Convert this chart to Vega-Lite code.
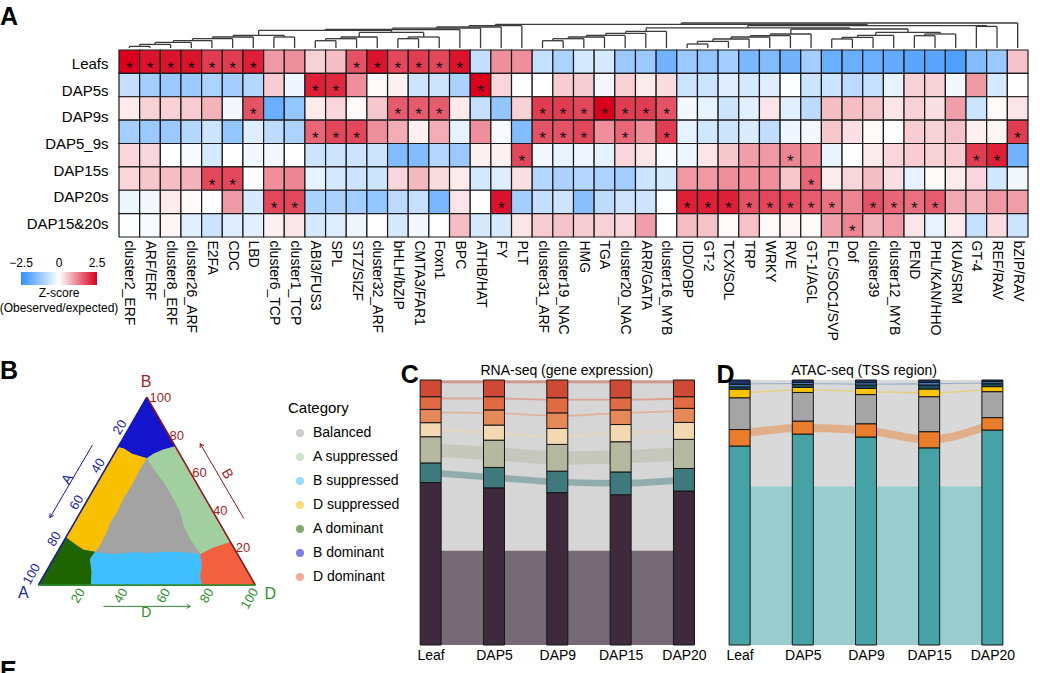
{
"$schema": "https://vega.github.io/schema/vega-lite/v6.json",
"padding": 0,
"background": "white",
"config": {
  "view": {"stroke": null},
  "font": "Liberation Sans",
  "axis": {"labelFont": "Liberation Sans", "titleFont": "Liberation Sans", "labelColor": "#000"},
  "legend": {"labelFont": "Liberation Sans", "titleFont": "Liberation Sans", "labelColor": "#000", "titleColor": "#000"}
},
"datasets": {
  "heat": [
{"r":1,"c":"cluster2_ERF","z":2.5,"s":1},{"r":1,"c":"ARF/ERF","z":2.3,"s":1},{"r":1,"c":"cluster8_ERF","z":2.3,"s":1},{"r":1,"c":"cluster26_ARF","z":2.3,"s":1},{"r":1,"c":"E2FA","z":1.9,"s":1},{"r":1,"c":"CDC","z":1.9,"s":1},{"r":1,"c":"LBD","z":2.2,"s":1},{"r":1,"c":"cluster6_TCP","z":1.0},{"r":1,"c":"cluster1_TCP","z":1.1},{"r":1,"c":"ABI3/FUS3","z":0.45},{"r":1,"c":"SPL","z":0.65},{"r":1,"c":"STZ/SIZF","z":1.7,"s":1},{"r":1,"c":"cluster32_ARF","z":2.3,"s":1},{"r":1,"c":"bHLH/bZIP","z":1.8,"s":1},{"r":1,"c":"CMTA3/FAR1","z":1.9,"s":1},{"r":1,"c":"Foxn1","z":1.8,"s":1},{"r":1,"c":"BPC","z":2.3,"s":1},{"r":1,"c":"ATHB/HAT","z":-0.7},{"r":1,"c":"FY","z":1.1},{"r":1,"c":"PLT","z":1.1},{"r":1,"c":"cluster31_ARF","z":-0.7},{"r":1,"c":"cluster19_NAC","z":-1.0},{"r":1,"c":"HMG","z":-0.5},{"r":1,"c":"TGA","z":-0.5},{"r":1,"c":"cluster20_NAC","z":-1.2},{"r":1,"c":"ARR/GATA","z":-1.2},{"r":1,"c":"cluster16_MYB","z":-1.7},{"r":1,"c":"IDD/OBP","z":-1.2},{"r":1,"c":"GT-2","z":-1.3},{"r":1,"c":"TCX/SOL","z":-1.1},{"r":1,"c":"TRP","z":-1.6},{"r":1,"c":"WRKY","z":-1.5},{"r":1,"c":"RVE","z":-1.7},{"r":1,"c":"GT-1/AGL","z":-1.1},{"r":1,"c":"FLC/SOC1/SVP","z":-1.8},{"r":1,"c":"Dof","z":-1.8},{"r":1,"c":"cluster39","z":-1.8},{"r":1,"c":"cluster12_MYB","z":-1.9},{"r":1,"c":"PEND","z":-2.0},{"r":1,"c":"PHL/KAN/HHO","z":-2.0},{"r":1,"c":"KUA/SRM","z":-2.1},{"r":1,"c":"GT-4","z":-1.5},{"r":1,"c":"REF/RAV","z":-1.2},{"r":1,"c":"bZIP/RAV","z":0.6},
{"r":2,"c":"cluster2_ERF","z":-0.7},{"r":2,"c":"ARF/ERF","z":-1.1},{"r":2,"c":"cluster8_ERF","z":-1.2},{"r":2,"c":"cluster26_ARF","z":-1.2},{"r":2,"c":"E2FA","z":-1.0},{"r":2,"c":"CDC","z":-1.1},{"r":2,"c":"LBD","z":-0.9},{"r":2,"c":"cluster6_TCP","z":0.5},{"r":2,"c":"cluster1_TCP","z":-0.2},{"r":2,"c":"ABI3/FUS3","z":2.2,"s":1},{"r":2,"c":"SPL","z":2.1,"s":1},{"r":2,"c":"STZ/SIZF","z":1.1},{"r":2,"c":"cluster32_ARF","z":0.05},{"r":2,"c":"bHLH/bZIP","z":0.15},{"r":2,"c":"CMTA3/FAR1","z":-0.6},{"r":2,"c":"Foxn1","z":-0.6},{"r":2,"c":"BPC","z":-1.0},{"r":2,"c":"ATHB/HAT","z":2.5,"s":1},{"r":2,"c":"FY","z":0.4},{"r":2,"c":"PLT","z":-0.05},{"r":2,"c":"cluster31_ARF","z":0},{"r":2,"c":"cluster19_NAC","z":0.5},{"r":2,"c":"HMG","z":0.5},{"r":2,"c":"TGA","z":-0.15},{"r":2,"c":"cluster20_NAC","z":0.45},{"r":2,"c":"ARR/GATA","z":0.2},{"r":2,"c":"cluster16_MYB","z":0.35},{"r":2,"c":"IDD/OBP","z":-0.6},{"r":2,"c":"GT-2","z":-0.6},{"r":2,"c":"TCX/SOL","z":-0.4},{"r":2,"c":"TRP","z":-0.5},{"r":2,"c":"WRKY","z":-0.4},{"r":2,"c":"RVE","z":-0.05},{"r":2,"c":"GT-1/AGL","z":-0.6},{"r":2,"c":"FLC/SOC1/SVP","z":-0.6},{"r":2,"c":"Dof","z":-0.8},{"r":2,"c":"cluster39","z":-0.7},{"r":2,"c":"cluster12_MYB","z":-0.3},{"r":2,"c":"PEND","z":0.45},{"r":2,"c":"PHL/KAN/HHO","z":0.45},{"r":2,"c":"KUA/SRM","z":-0.15},{"r":2,"c":"GT-4","z":1.0},{"r":2,"c":"REF/RAV","z":-0.5},{"r":2,"c":"bZIP/RAV","z":0},
{"r":3,"c":"cluster2_ERF","z":0.2},{"r":3,"c":"ARF/ERF","z":0.45},{"r":3,"c":"cluster8_ERF","z":0.45},{"r":3,"c":"cluster26_ARF","z":0.5},{"r":3,"c":"E2FA","z":0.75},{"r":3,"c":"CDC","z":-0.15},{"r":3,"c":"LBD","z":1.7,"s":1},{"r":3,"c":"cluster6_TCP","z":-1.8},{"r":3,"c":"cluster1_TCP","z":-1.3},{"r":3,"c":"ABI3/FUS3","z":0.2},{"r":3,"c":"SPL","z":0.4},{"r":3,"c":"STZ/SIZF","z":0.05},{"r":3,"c":"cluster32_ARF","z":0.55},{"r":3,"c":"bHLH/bZIP","z":1.6,"s":1},{"r":3,"c":"CMTA3/FAR1","z":1.6,"s":1},{"r":3,"c":"Foxn1","z":1.6,"s":1},{"r":3,"c":"BPC","z":0.2},{"r":3,"c":"ATHB/HAT","z":-0.7},{"r":3,"c":"FY","z":-1.3},{"r":3,"c":"PLT","z":0.45},{"r":3,"c":"cluster31_ARF","z":1.9,"s":1},{"r":3,"c":"cluster19_NAC","z":1.9,"s":1},{"r":3,"c":"HMG","z":1.8,"s":1},{"r":3,"c":"TGA","z":2.5,"s":1},{"r":3,"c":"cluster20_NAC","z":1.9,"s":1},{"r":3,"c":"ARR/GATA","z":1.9,"s":1},{"r":3,"c":"cluster16_MYB","z":1.7,"s":1},{"r":3,"c":"IDD/OBP","z":-0.15},{"r":3,"c":"GT-2","z":-0.3},{"r":3,"c":"TCX/SOL","z":-0.6},{"r":3,"c":"TRP","z":-0.35},{"r":3,"c":"WRKY","z":0.25},{"r":3,"c":"RVE","z":-0.35},{"r":3,"c":"GT-1/AGL","z":-0.8},{"r":3,"c":"FLC/SOC1/SVP","z":0.65},{"r":3,"c":"Dof","z":0.65},{"r":3,"c":"cluster39","z":0.55},{"r":3,"c":"cluster12_MYB","z":0.25},{"r":3,"c":"PEND","z":0.45},{"r":3,"c":"PHL/KAN/HHO","z":0.3},{"r":3,"c":"KUA/SRM","z":0.95},{"r":3,"c":"GT-4","z":-0.6},{"r":3,"c":"REF/RAV","z":0.05},{"r":3,"c":"bZIP/RAV","z":0.25},
{"r":4,"c":"cluster2_ERF","z":-1.1},{"r":4,"c":"ARF/ERF","z":-1.2},{"r":4,"c":"cluster8_ERF","z":-1.2},{"r":4,"c":"cluster26_ARF","z":-0.9},{"r":4,"c":"E2FA","z":-0.6},{"r":4,"c":"CDC","z":-1.3},{"r":4,"c":"LBD","z":-0.4},{"r":4,"c":"cluster6_TCP","z":-0.8},{"r":4,"c":"cluster1_TCP","z":-1.0},{"r":4,"c":"ABI3/FUS3","z":1.5,"s":1},{"r":4,"c":"SPL","z":1.8,"s":1},{"r":4,"c":"STZ/SIZF","z":1.8,"s":1},{"r":4,"c":"cluster32_ARF","z":1.1},{"r":4,"c":"bHLH/bZIP","z":0.8},{"r":4,"c":"CMTA3/FAR1","z":0.15},{"r":4,"c":"Foxn1","z":0.8},{"r":4,"c":"BPC","z":-0.3},{"r":4,"c":"ATHB/HAT","z":1.1},{"r":4,"c":"FY","z":-0.1},{"r":4,"c":"PLT","z":-1.5},{"r":4,"c":"cluster31_ARF","z":1.7,"s":1},{"r":4,"c":"cluster19_NAC","z":1.7,"s":1},{"r":4,"c":"HMG","z":1.8,"s":1},{"r":4,"c":"TGA","z":1.1},{"r":4,"c":"cluster20_NAC","z":1.5,"s":1},{"r":4,"c":"ARR/GATA","z":1.1},{"r":4,"c":"cluster16_MYB","z":1.9,"s":1},{"r":4,"c":"IDD/OBP","z":-0.3},{"r":4,"c":"GT-2","z":-0.55},{"r":4,"c":"TCX/SOL","z":-0.6},{"r":4,"c":"TRP","z":-0.45},{"r":4,"c":"WRKY","z":-0.75},{"r":4,"c":"RVE","z":-0.2},{"r":4,"c":"GT-1/AGL","z":-0.15},{"r":4,"c":"FLC/SOC1/SVP","z":0.55},{"r":4,"c":"Dof","z":0.3},{"r":4,"c":"cluster39","z":0.05},{"r":4,"c":"cluster12_MYB","z":-0.05},{"r":4,"c":"PEND","z":0.5},{"r":4,"c":"PHL/KAN/HHO","z":0.45},{"r":4,"c":"KUA/SRM","z":0.6},{"r":4,"c":"GT-4","z":0.15},{"r":4,"c":"REF/RAV","z":0.1},{"r":4,"c":"bZIP/RAV","z":1.9,"s":1},
{"r":5,"c":"cluster2_ERF","z":0.4},{"r":5,"c":"ARF/ERF","z":0.4},{"r":5,"c":"cluster8_ERF","z":0},{"r":5,"c":"cluster26_ARF","z":-0.1},{"r":5,"c":"E2FA","z":-0.5},{"r":5,"c":"CDC","z":0},{"r":5,"c":"LBD","z":-0.15},{"r":5,"c":"cluster6_TCP","z":-0.15},{"r":5,"c":"cluster1_TCP","z":0},{"r":5,"c":"ABI3/FUS3","z":-0.6},{"r":5,"c":"SPL","z":-0.6},{"r":5,"c":"STZ/SIZF","z":-0.6},{"r":5,"c":"cluster32_ARF","z":-0.6},{"r":5,"c":"bHLH/bZIP","z":-1.5},{"r":5,"c":"CMTA3/FAR1","z":-1.5},{"r":5,"c":"Foxn1","z":-0.9},{"r":5,"c":"BPC","z":-1.2},{"r":5,"c":"ATHB/HAT","z":0.15},{"r":5,"c":"FY","z":0.15},{"r":5,"c":"PLT","z":1.8,"s":1},{"r":5,"c":"cluster31_ARF","z":-0.15},{"r":5,"c":"cluster19_NAC","z":-0.25},{"r":5,"c":"HMG","z":-0.2},{"r":5,"c":"TGA","z":-0.3},{"r":5,"c":"cluster20_NAC","z":0.4},{"r":5,"c":"ARR/GATA","z":0.25},{"r":5,"c":"cluster16_MYB","z":-0.1},{"r":5,"c":"IDD/OBP","z":-0.2},{"r":5,"c":"GT-2","z":0.25},{"r":5,"c":"TCX/SOL","z":0.55},{"r":5,"c":"TRP","z":0.95},{"r":5,"c":"WRKY","z":1.0},{"r":5,"c":"RVE","z":1.2,"s":1},{"r":5,"c":"GT-1/AGL","z":1.1},{"r":5,"c":"FLC/SOC1/SVP","z":-0.25},{"r":5,"c":"Dof","z":-0.02},{"r":5,"c":"cluster39","z":0.2},{"r":5,"c":"cluster12_MYB","z":0.4},{"r":5,"c":"PEND","z":0.5},{"r":5,"c":"PHL/KAN/HHO","z":0.45},{"r":5,"c":"KUA/SRM","z":0.5},{"r":5,"c":"GT-4","z":1.9,"s":1},{"r":5,"c":"REF/RAV","z":2.2,"s":1},{"r":5,"c":"bZIP/RAV","z":-1.7},
{"r":6,"c":"cluster2_ERF","z":0.4},{"r":6,"c":"ARF/ERF","z":0.55},{"r":6,"c":"cluster8_ERF","z":0.65},{"r":6,"c":"cluster26_ARF","z":0.75},{"r":6,"c":"E2FA","z":1.8,"s":1},{"r":6,"c":"CDC","z":1.8,"s":1},{"r":6,"c":"LBD","z":0},{"r":6,"c":"cluster6_TCP","z":1.1},{"r":6,"c":"cluster1_TCP","z":1.2},{"r":6,"c":"ABI3/FUS3","z":-0.3},{"r":6,"c":"SPL","z":-0.5},{"r":6,"c":"STZ/SIZF","z":-0.6},{"r":6,"c":"cluster32_ARF","z":-0.6},{"r":6,"c":"bHLH/bZIP","z":0.4},{"r":6,"c":"CMTA3/FAR1","z":0.7},{"r":6,"c":"Foxn1","z":0.35},{"r":6,"c":"BPC","z":0.2},{"r":6,"c":"ATHB/HAT","z":-0.5},{"r":6,"c":"FY","z":-0.4},{"r":6,"c":"PLT","z":0.3},{"r":6,"c":"cluster31_ARF","z":-0.9},{"r":6,"c":"cluster19_NAC","z":-1.0},{"r":6,"c":"HMG","z":-0.9},{"r":6,"c":"TGA","z":-1.0},{"r":6,"c":"cluster20_NAC","z":-1.1},{"r":6,"c":"ARR/GATA","z":-0.6},{"r":6,"c":"cluster16_MYB","z":-0.5},{"r":6,"c":"IDD/OBP","z":1.0},{"r":6,"c":"GT-2","z":1.0},{"r":6,"c":"TCX/SOL","z":1.1},{"r":6,"c":"TRP","z":1.1},{"r":6,"c":"WRKY","z":1.1},{"r":6,"c":"RVE","z":0.55},{"r":6,"c":"GT-1/AGL","z":1.5,"s":1},{"r":6,"c":"FLC/SOC1/SVP","z":0.2},{"r":6,"c":"Dof","z":0.4},{"r":6,"c":"cluster39","z":0.65},{"r":6,"c":"cluster12_MYB","z":0.3},{"r":6,"c":"PEND","z":-0.3},{"r":6,"c":"PHL/KAN/HHO","z":0.05},{"r":6,"c":"KUA/SRM","z":0.2},{"r":6,"c":"GT-4","z":0.4},{"r":6,"c":"REF/RAV","z":-0.55},{"r":6,"c":"bZIP/RAV","z":-0.15},
{"r":7,"c":"cluster2_ERF","z":-0.2},{"r":7,"c":"ARF/ERF","z":-0.15},{"r":7,"c":"cluster8_ERF","z":0.2},{"r":7,"c":"cluster26_ARF","z":0.05},{"r":7,"c":"E2FA","z":0},{"r":7,"c":"CDC","z":1.0},{"r":7,"c":"LBD","z":-0.5},{"r":7,"c":"cluster6_TCP","z":1.8,"s":1},{"r":7,"c":"cluster1_TCP","z":1.8,"s":1},{"r":7,"c":"ABI3/FUS3","z":-1.0},{"r":7,"c":"SPL","z":-1.0},{"r":7,"c":"STZ/SIZF","z":-1.1},{"r":7,"c":"cluster32_ARF","z":-1.3},{"r":7,"c":"bHLH/bZIP","z":-0.8},{"r":7,"c":"CMTA3/FAR1","z":-0.7},{"r":7,"c":"Foxn1","z":-1.6},{"r":7,"c":"BPC","z":0.25},{"r":7,"c":"ATHB/HAT","z":0},{"r":7,"c":"FY","z":2.3,"s":1},{"r":7,"c":"PLT","z":-1.1},{"r":7,"c":"cluster31_ARF","z":-0.7},{"r":7,"c":"cluster19_NAC","z":-0.6},{"r":7,"c":"HMG","z":-1.4},{"r":7,"c":"TGA","z":-0.8},{"r":7,"c":"cluster20_NAC","z":-0.6},{"r":7,"c":"ARR/GATA","z":-0.6},{"r":7,"c":"cluster16_MYB","z":-0.05},{"r":7,"c":"IDD/OBP","z":2.2,"s":1},{"r":7,"c":"GT-2","z":2.2,"s":1},{"r":7,"c":"TCX/SOL","z":2.2,"s":1},{"r":7,"c":"TRP","z":1.7,"s":1},{"r":7,"c":"WRKY","z":1.8,"s":1},{"r":7,"c":"RVE","z":1.8,"s":1},{"r":7,"c":"GT-1/AGL","z":1.6,"s":1},{"r":7,"c":"FLC/SOC1/SVP","z":1.4,"s":1},{"r":7,"c":"Dof","z":1.2},{"r":7,"c":"cluster39","z":1.7,"s":1},{"r":7,"c":"cluster12_MYB","z":1.5,"s":1},{"r":7,"c":"PEND","z":1.4,"s":1},{"r":7,"c":"PHL/KAN/HHO","z":1.6,"s":1},{"r":7,"c":"KUA/SRM","z":0.85},{"r":7,"c":"GT-4","z":0.75},{"r":7,"c":"REF/RAV","z":1.0},{"r":7,"c":"bZIP/RAV","z":0.95},
{"r":8,"c":"cluster2_ERF","z":-0.05},{"r":8,"c":"ARF/ERF","z":-0.1},{"r":8,"c":"cluster8_ERF","z":0.1},{"r":8,"c":"cluster26_ARF","z":-0.35},{"r":8,"c":"E2FA","z":-0.6},{"r":8,"c":"CDC","z":-0.4},{"r":8,"c":"LBD","z":-0.35},{"r":8,"c":"cluster6_TCP","z":0.15},{"r":8,"c":"cluster1_TCP","z":0.25},{"r":8,"c":"ABI3/FUS3","z":-0.5},{"r":8,"c":"SPL","z":-0.4},{"r":8,"c":"STZ/SIZF","z":-0.2},{"r":8,"c":"cluster32_ARF","z":0},{"r":8,"c":"bHLH/bZIP","z":-0.5},{"r":8,"c":"CMTA3/FAR1","z":-0.15},{"r":8,"c":"Foxn1","z":0},{"r":8,"c":"BPC","z":0.65},{"r":8,"c":"ATHB/HAT","z":-0.5},{"r":8,"c":"FY","z":-0.5},{"r":8,"c":"PLT","z":0.25},{"r":8,"c":"cluster31_ARF","z":0.5},{"r":8,"c":"cluster19_NAC","z":0.6},{"r":8,"c":"HMG","z":0.5},{"r":8,"c":"TGA","z":0.45},{"r":8,"c":"cluster20_NAC","z":0.4},{"r":8,"c":"ARR/GATA","z":0.95},{"r":8,"c":"cluster16_MYB","z":0},{"r":8,"c":"IDD/OBP","z":0.65},{"r":8,"c":"GT-2","z":0.6},{"r":8,"c":"TCX/SOL","z":0.05},{"r":8,"c":"TRP","z":0.6},{"r":8,"c":"WRKY","z":0.05},{"r":8,"c":"RVE","z":0.1},{"r":8,"c":"GT-1/AGL","z":0.05},{"r":8,"c":"FLC/SOC1/SVP","z":0.9},{"r":8,"c":"Dof","z":1.2,"s":1},{"r":8,"c":"cluster39","z":0.75},{"r":8,"c":"cluster12_MYB","z":1.0},{"r":8,"c":"PEND","z":0.25},{"r":8,"c":"PHL/KAN/HHO","z":-0.3},{"r":8,"c":"KUA/SRM","z":0.2},{"r":8,"c":"GT-4","z":-0.7},{"r":8,"c":"REF/RAV","z":0.35},{"r":8,"c":"bZIP/RAV","z":-0.6}
  ],
  "rowlabels": [{"label":"Leafs"},{"label":"DAP5s"},{"label":"DAP9s"},{"label":"DAP5_9s"},{"label":"DAP15s"},{"label":"DAP20s"},{"label":"DAP15&20s"}],
  "links": [
{"x1":0.5,"x2":1.5,"h":1.6,"h1":0,"h2":0},{"x1":1.0,"x2":2.5,"h":3.6,"h1":1.6,"h2":0},{"x1":1.75,"x2":3.5,"h":5.6,"h1":3.6,"h2":0},{"x1":2.63,"x2":4.5,"h":7.3,"h1":5.6,"h2":0},{"x1":3.56,"x2":5.5,"h":9.3,"h1":7.3,"h2":0},{"x1":4.53,"x2":6.5,"h":11,"h1":9.3,"h2":0},{"x1":7.5,"x2":8.5,"h":11,"h1":0,"h2":0},{"x1":5.52,"x2":8.0,"h":12.6,"h1":11,"h2":11},
{"x1":9.5,"x2":10.5,"h":7.3,"h1":0,"h2":0},{"x1":10,"x2":11.5,"h":9.3,"h1":7.3,"h2":0},{"x1":10.75,"x2":12.5,"h":11,"h1":9.3,"h2":0},{"x1":13.5,"x2":14.5,"h":9.3,"h1":0,"h2":0},{"x1":14,"x2":15.5,"h":11,"h1":9.3,"h2":0},{"x1":11.63,"x2":14.75,"h":15.6,"h1":11,"h2":11},{"x1":6.76,"x2":13.19,"h":17.6,"h1":12.6,"h2":15.6},{"x1":9.98,"x2":16.5,"h":18.5,"h1":17.6,"h2":0},{"x1":13.24,"x2":17.5,"h":19.8,"h1":18.5,"h2":0},{"x1":15.37,"x2":18.5,"h":21,"h1":19.8,"h2":0},{"x1":16.94,"x2":19.5,"h":22.3,"h1":21,"h2":0},
{"x1":20.5,"x2":21.5,"h":7.3,"h1":0,"h2":0},{"x1":21,"x2":22.5,"h":9.3,"h1":7.3,"h2":0},{"x1":21.75,"x2":23.5,"h":11,"h1":9.3,"h2":0},{"x1":22.63,"x2":24.5,"h":12.6,"h1":11,"h2":0},{"x1":23.56,"x2":25.5,"h":14.6,"h1":12.6,"h2":0},{"x1":24.53,"x2":26.5,"h":16.6,"h1":14.6,"h2":0},
{"x1":27.5,"x2":28.5,"h":4,"h1":0,"h2":0},{"x1":28,"x2":29.5,"h":6.6,"h1":4,"h2":0},{"x1":28.75,"x2":30.5,"h":9,"h1":6.6,"h2":0},{"x1":29.63,"x2":31.5,"h":11,"h1":9,"h2":0},{"x1":30.56,"x2":32.5,"h":12.3,"h1":11,"h2":0},{"x1":31.53,"x2":33.5,"h":14,"h1":12.3,"h2":0},
{"x1":34.5,"x2":35.5,"h":9,"h1":0,"h2":0},{"x1":35,"x2":36.5,"h":10.6,"h1":9,"h2":0},{"x1":35.75,"x2":37.5,"h":12.6,"h1":10.6,"h2":0},{"x1":38.5,"x2":39.5,"h":12.3,"h1":0,"h2":0},{"x1":39,"x2":40.5,"h":14,"h1":12.3,"h2":0},{"x1":36.63,"x2":39.75,"h":15.6,"h1":12.6,"h2":14},{"x1":32.52,"x2":38.19,"h":19,"h1":14,"h2":15.6},{"x1":25.52,"x2":35.36,"h":20.2,"h1":16.6,"h2":19},
{"x1":41.5,"x2":42.5,"h":21.6,"h1":0,"h2":0},{"x1":30.44,"x2":42,"h":22.4,"h1":20.2,"h2":21.6},{"x1":18.22,"x2":36.22,"h":23.6,"h1":22.3,"h2":22.4},{"x1":27.22,"x2":43.5,"h":25,"h1":23.6,"h2":0}
  ],
  "regions": [
{"cat":"Balanced","o":1,"x":0,"y":0},{"cat":"Balanced","o":2,"x":100,"y":0},{"cat":"Balanced","o":3,"x":50,"y":86.6},
{"cat":"B dominant","o":1,"x":50,"y":86.6},{"cat":"B dominant","o":2,"x":36.7,"y":63.5},{"cat":"B dominant","o":3,"x":39.2,"y":63.1},{"cat":"B dominant","o":4,"x":43.1,"y":60.5},{"cat":"B dominant","o":5,"x":46.9,"y":59.4},{"cat":"B dominant","o":6,"x":50,"y":58.5},{"cat":"B dominant","o":7,"x":53.1,"y":60.5},{"cat":"B dominant","o":8,"x":57.7,"y":62.5},{"cat":"B dominant","o":9,"x":63.1,"y":64},
{"cat":"D suppressed","o":1,"x":36.7,"y":63.5},{"cat":"D suppressed","o":2,"x":39.2,"y":63.1},{"cat":"D suppressed","o":3,"x":43.1,"y":60.5},{"cat":"D suppressed","o":4,"x":46.9,"y":59.4},{"cat":"D suppressed","o":5,"x":50,"y":58.5},{"cat":"D suppressed","o":6,"x":46.9,"y":53.5},{"cat":"D suppressed","o":7,"x":43.8,"y":47.4},{"cat":"D suppressed","o":8,"x":39.2,"y":39.7},{"cat":"D suppressed","o":9,"x":36.2,"y":33.5},{"cat":"D suppressed","o":10,"x":33.1,"y":28.9},{"cat":"D suppressed","o":11,"x":31.5,"y":24.3},{"cat":"D suppressed","o":12,"x":28.5,"y":18.2},{"cat":"D suppressed","o":13,"x":26.2,"y":15.4},{"cat":"D suppressed","o":14,"x":20.8,"y":16.3},{"cat":"D suppressed","o":15,"x":16.9,"y":18.9},{"cat":"D suppressed","o":16,"x":12.7,"y":22},
{"cat":"A dominant","o":1,"x":0,"y":0},{"cat":"A dominant","o":2,"x":12.7,"y":22},{"cat":"A dominant","o":3,"x":16.9,"y":18.9},{"cat":"A dominant","o":4,"x":20.8,"y":16.3},{"cat":"A dominant","o":5,"x":26.2,"y":15.4},{"cat":"A dominant","o":6,"x":23.8,"y":12},{"cat":"A dominant","o":7,"x":24.6,"y":5.8},{"cat":"A dominant","o":8,"x":24.2,"y":0},
{"cat":"B suppressed","o":1,"x":24.2,"y":0},{"cat":"B suppressed","o":2,"x":24.6,"y":5.8},{"cat":"B suppressed","o":3,"x":23.8,"y":12},{"cat":"B suppressed","o":4,"x":26.2,"y":15.4},{"cat":"B suppressed","o":5,"x":28.5,"y":14.8},{"cat":"B suppressed","o":6,"x":36.2,"y":14.3},{"cat":"B suppressed","o":7,"x":43.8,"y":15.1},{"cat":"B suppressed","o":8,"x":51.5,"y":14.8},{"cat":"B suppressed","o":9,"x":59.2,"y":15.4},{"cat":"B suppressed","o":10,"x":66.9,"y":15.1},{"cat":"B suppressed","o":11,"x":74.6,"y":14.3},{"cat":"B suppressed","o":12,"x":75.4,"y":8.9},{"cat":"B suppressed","o":13,"x":74.6,"y":4.3},{"cat":"B suppressed","o":14,"x":75.4,"y":0},
{"cat":"D dominant","o":1,"x":75.4,"y":0},{"cat":"D dominant","o":2,"x":74.6,"y":4.3},{"cat":"D dominant","o":3,"x":75.4,"y":8.9},{"cat":"D dominant","o":4,"x":74.6,"y":14.3},{"cat":"D dominant","o":5,"x":80.8,"y":17.4},{"cat":"D dominant","o":6,"x":88.5,"y":20},{"cat":"D dominant","o":7,"x":100,"y":0},
{"cat":"A suppressed","o":1,"x":50,"y":58.5},{"cat":"A suppressed","o":2,"x":53.1,"y":60.5},{"cat":"A suppressed","o":3,"x":57.7,"y":62.5},{"cat":"A suppressed","o":4,"x":63.1,"y":64},{"cat":"A suppressed","o":5,"x":88.5,"y":20},{"cat":"A suppressed","o":6,"x":80.8,"y":17.4},{"cat":"A suppressed","o":7,"x":74.6,"y":14.3},{"cat":"A suppressed","o":8,"x":73.1,"y":16.6},{"cat":"A suppressed","o":9,"x":70,"y":21.2},{"cat":"A suppressed","o":10,"x":66.9,"y":27.4},{"cat":"A suppressed","o":11,"x":65.4,"y":33.5},{"cat":"A suppressed","o":12,"x":62.3,"y":39.7},{"cat":"A suppressed","o":13,"x":57.7,"y":47.4},{"cat":"A suppressed","o":14,"x":53.1,"y":53.5}
  ],
  "edges": [{"ax":"A","x":0,"y":0,"x2":50,"y2":86.6},{"ax":"B","x":50,"y":86.6,"x2":100,"y2":0},{"ax":"D","x":0,"y":0,"x2":100,"y2":0}],
  "ticks": [
{"ax":"A","t":"20","x":37.6,"y":72.7},{"ax":"A","t":"40","x":27.6,"y":55.0},{"ax":"A","t":"60","x":17.7,"y":38.1},{"ax":"A","t":"80","x":7.4,"y":21.2},{"ax":"A","t":"100","x":-3.0,"y":5.1},
{"ax":"B","t":"100","x":56.2,"y":86.2},{"ax":"B","t":"80","x":63.8,"y":68.6},{"ax":"B","t":"60","x":74.3,"y":51.7},{"ax":"B","t":"40","x":83.8,"y":34.3},{"ax":"B","t":"20","x":94.3,"y":17.1},
{"ax":"D","t":"20","x":18.4,"y":-4.9},{"ax":"D","t":"40","x":38.1,"y":-4.9},{"ax":"D","t":"60","x":57.7,"y":-4.9},{"ax":"D","t":"80","x":77.7,"y":-4.9},{"ax":"D","t":"100","x":97.4,"y":-6.2}
  ],
  "vertices": [{"ax":"A","t":"A","x":-6.9,"y":-3.7},{"ax":"B","t":"B","x":49.7,"y":93.5},{"ax":"D","t":"D","x":106.9,"y":-4.2}],
  "axisnames": [{"ax":"A","t":"A","x":13.5,"y":48.8},{"ax":"B","t":"B","x":86.9,"y":51.2},{"ax":"D","t":"D","x":49.7,"y":-12.9}],
  "arrows": [{"ax":"A","x":24.9,"y":64.5,"x2":5.4,"y2":31.2,"dir":120},{"ax":"B","x":94.6,"y":30.8,"x2":74.6,"y2":65.1,"dir":240},{"ax":"D","x":30,"y":-9.8,"x2":70,"y2":-9.8,"dir":0}],
  "barsC": [
{"s":0,"k":"C1","o":1,"pct":61.3},{"s":0,"k":"C2","o":2,"pct":7.4},{"s":0,"k":"C3","o":3,"pct":9.9},{"s":0,"k":"C4","o":4,"pct":5.3},{"s":0,"k":"C5","o":5,"pct":5.0},{"s":0,"k":"C6","o":6,"pct":4.8},{"s":0,"k":"C7","o":7,"pct":6.3},
{"s":1,"k":"C1","o":1,"pct":59.3},{"s":1,"k":"C2","o":2,"pct":7.7},{"s":1,"k":"C3","o":3,"pct":10.3},{"s":1,"k":"C4","o":4,"pct":5.7},{"s":1,"k":"C5","o":5,"pct":5.7},{"s":1,"k":"C6","o":6,"pct":5.0},{"s":1,"k":"C7","o":7,"pct":6.3},
{"s":2,"k":"C1","o":1,"pct":57.5},{"s":2,"k":"C2","o":2,"pct":8.1},{"s":2,"k":"C3","o":3,"pct":10.1},{"s":2,"k":"C4","o":4,"pct":6.0},{"s":2,"k":"C5","o":5,"pct":5.9},{"s":2,"k":"C6","o":6,"pct":5.7},{"s":2,"k":"C7","o":7,"pct":6.7},
{"s":3,"k":"C1","o":1,"pct":56.7},{"s":3,"k":"C2","o":2,"pct":8.6},{"s":3,"k":"C3","o":3,"pct":11.4},{"s":3,"k":"C4","o":4,"pct":6.5},{"s":3,"k":"C5","o":5,"pct":5.5},{"s":3,"k":"C6","o":6,"pct":4.6},{"s":3,"k":"C7","o":7,"pct":6.7},
{"s":4,"k":"C1","o":1,"pct":58.1},{"s":4,"k":"C2","o":2,"pct":8.5},{"s":4,"k":"C3","o":3,"pct":11.0},{"s":4,"k":"C4","o":4,"pct":6.4},{"s":4,"k":"C5","o":5,"pct":5.3},{"s":4,"k":"C6","o":6,"pct":4.4},{"s":4,"k":"C7","o":7,"pct":6.3}
  ],
  "barsD": [
{"s":0,"k":"D1","o":1,"pct":75.1},{"s":0,"k":"D2","o":2,"pct":6.2},{"s":0,"k":"D3","o":3,"pct":12.0},{"s":0,"k":"D4","o":4,"pct":3.2},{"s":0,"k":"D5","o":5,"pct":0.9},{"s":0,"k":"D6","o":6,"pct":1.0},{"s":0,"k":"D7","o":7,"pct":1.6},
{"s":1,"k":"D1","o":1,"pct":79.6},{"s":1,"k":"D2","o":2,"pct":4.9},{"s":1,"k":"D3","o":3,"pct":10.8},{"s":1,"k":"D4","o":4,"pct":1.9},{"s":1,"k":"D5","o":5,"pct":1.1},{"s":1,"k":"D6","o":6,"pct":0.8},{"s":1,"k":"D7","o":7,"pct":0.9},
{"s":2,"k":"D1","o":1,"pct":78.5},{"s":2,"k":"D2","o":2,"pct":5.0},{"s":2,"k":"D3","o":3,"pct":11.0},{"s":2,"k":"D4","o":4,"pct":2.3},{"s":2,"k":"D5","o":5,"pct":1.3},{"s":2,"k":"D6","o":6,"pct":0.9},{"s":2,"k":"D7","o":7,"pct":1.0},
{"s":3,"k":"D1","o":1,"pct":74.4},{"s":3,"k":"D2","o":2,"pct":6.1},{"s":3,"k":"D3","o":3,"pct":13.2},{"s":3,"k":"D4","o":4,"pct":2.9},{"s":3,"k":"D5","o":5,"pct":1.5},{"s":3,"k":"D6","o":6,"pct":1.0},{"s":3,"k":"D7","o":7,"pct":0.9},
{"s":4,"k":"D1","o":1,"pct":81.1},{"s":4,"k":"D2","o":2,"pct":4.7},{"s":4,"k":"D3","o":3,"pct":9.8},{"s":4,"k":"D4","o":4,"pct":1.9},{"s":4,"k":"D5","o":5,"pct":1.1},{"s":4,"k":"D6","o":6,"pct":0.8},{"s":4,"k":"D7","o":7,"pct":0.6}
  ],
  "flowsC": [
{"s":0,"s2":1,"k":"C1","lo":0,"hi":35.7},{"s":0,"s2":1,"k":"mixed","lo":35.7,"hi":100},
{"s":1,"s2":2,"k":"C1","lo":0,"hi":35.7},{"s":1,"s2":2,"k":"mixed","lo":35.7,"hi":100},
{"s":2,"s2":3,"k":"C1","lo":0,"hi":35.7},{"s":2,"s2":3,"k":"mixed","lo":35.7,"hi":100},
{"s":3,"s2":4,"k":"C1","lo":0,"hi":35.7},{"s":3,"s2":4,"k":"mixed","lo":35.7,"hi":100}
  ],
  "flowsD": [
{"s":0,"s2":1,"k":"D1","lo":0,"hi":59.9},{"s":0,"s2":1,"k":"mixed","lo":59.9,"hi":100},
{"s":1,"s2":2,"k":"D1","lo":0,"hi":59.9},{"s":1,"s2":2,"k":"mixed","lo":59.9,"hi":100},
{"s":2,"s2":3,"k":"D1","lo":0,"hi":59.9},{"s":2,"s2":3,"k":"mixed","lo":59.9,"hi":100},
{"s":3,"s2":4,"k":"D1","lo":0,"hi":59.9},{"s":3,"s2":4,"k":"mixed","lo":59.9,"hi":100}
  ],
  "linesC": [
{"k":"C7","s":0,"v":99.3,"n":1.0},{"k":"C7","s":1,"v":99.3,"n":1.0},{"k":"C7","s":2,"v":99.3,"n":1.0},{"k":"C7","s":3,"v":99.3,"n":1.0},{"k":"C7","s":4,"v":99.3,"n":1.0},
{"k":"C6","s":0,"v":93.0,"n":0.7},{"k":"C6","s":1,"v":93.0,"n":0.7},{"k":"C6","s":2,"v":92.6,"n":0.7},{"k":"C6","s":3,"v":92.6,"n":0.7},{"k":"C6","s":4,"v":93.0,"n":0.7},
{"k":"C5","s":0,"v":87.8,"n":0.7},{"k":"C5","s":1,"v":87.5,"n":0.7},{"k":"C5","s":2,"v":86.5,"n":0.7},{"k":"C5","s":3,"v":87.5,"n":0.7},{"k":"C5","s":4,"v":88.3,"n":0.7},
{"k":"C4","s":0,"v":81.3,"n":1.1},{"k":"C4","s":1,"v":80.2,"n":1.1},{"k":"C4","s":2,"v":78.7,"n":1.1},{"k":"C4","s":3,"v":80.0,"n":1.1},{"k":"C4","s":4,"v":80.8,"n":1.1},
{"k":"C3","s":0,"v":73.6,"n":5.0},{"k":"C3","s":1,"v":72.2,"n":5.0},{"k":"C3","s":2,"v":70.6,"n":5.0},{"k":"C3","s":3,"v":71.0,"n":5.0},{"k":"C3","s":4,"v":72.1,"n":5.0},
{"k":"C2","s":0,"v":65.0,"n":2.5},{"k":"C2","s":1,"v":63.2,"n":2.5},{"k":"C2","s":2,"v":61.5,"n":2.5},{"k":"C2","s":3,"v":61.0,"n":2.5},{"k":"C2","s":4,"v":62.3,"n":2.5}
  ],
  "linesD": [
{"k":"D2","s":0,"v":79.5,"n":3.0},{"k":"D2","s":1,"v":82.0,"n":3.0},{"k":"D2","s":2,"v":81.0,"n":3.0},{"k":"D2","s":3,"v":77.5,"n":3.0},{"k":"D2","s":4,"v":83.5,"n":3.0},
{"k":"D4","s":0,"v":94.9,"n":0.5},{"k":"D4","s":1,"v":96.25,"n":0.5},{"k":"D4","s":2,"v":95.65,"n":0.5},{"k":"D4","s":3,"v":95.15,"n":0.5},{"k":"D4","s":4,"v":96.55,"n":0.5},
{"k":"D6","s":0,"v":98.5,"n":0.4},{"k":"D6","s":1,"v":98.7,"n":0.4},{"k":"D6","s":2,"v":98.4,"n":0.4},{"k":"D6","s":3,"v":98.6,"n":0.4},{"k":"D6","s":4,"v":98.9,"n":0.4}
  ]
},
"resolve": {"scale": {"color": "independent"}},
"spacing": 18,
"vconcat": [
  {
    "spacing": 0,
    "resolve": {"scale": {"color": "independent"}},
    "vconcat": [
      {
        "width": 1028, "height": 48,
        "data": {"name": "links"},
        "layer": [
          {"mark": {"type": "rule", "color": "#3a3a3a", "strokeWidth": 1.3},
           "encoding": {
             "x": {"field": "x1", "type": "quantitative", "scale": {"domain": [-5.76, 44], "nice": false, "zero": false}, "axis": null},
             "x2": {"field": "x2"},
             "y": {"field": "h", "type": "quantitative", "scale": {"domain": [0, 48], "nice": false, "zero": false}, "axis": null}}},
          {"mark": {"type": "rule", "color": "#3a3a3a", "strokeWidth": 1.3},
           "encoding": {"x": {"field": "x1", "type": "quantitative"}, "y": {"field": "h1", "type": "quantitative"}, "y2": {"field": "h"}}},
          {"mark": {"type": "rule", "color": "#3a3a3a", "strokeWidth": 1.3},
           "encoding": {"x": {"field": "x2", "type": "quantitative"}, "y": {"field": "h2", "type": "quantitative"}, "y2": {"field": "h"}}},
          {"data": {"values": [{"t": "A"}]},
           "mark": {"type": "text", "fontSize": 25, "fontWeight": "bold", "align": "left", "baseline": "alphabetic", "color": "#000"},
           "encoding": {"x": {"datum": -5.76}, "y": {"datum": 23}, "text": {"field": "t"}}}
        ]
      },
      {
        "width": 1028, "height": 187,
        "resolve": {"scale": {"y": "independent"}, "axis": {"y": "independent"}},
        "layer": [
          {
            "data": {"name": "heat"},
            "layer": [
              {"mark": {"type": "rect", "stroke": "#1a1a1a", "strokeWidth": 1.2},
               "encoding": {
                 "x": {"field": "c", "type": "nominal", "sort": null,
                       "scale": {"domain": ["cluster2_ERF","ARF/ERF","cluster8_ERF","cluster26_ARF","E2FA","CDC","LBD","cluster6_TCP","cluster1_TCP","ABI3/FUS3","SPL","STZ/SIZF","cluster32_ARF","bHLH/bZIP","CMTA3/FAR1","Foxn1","BPC","ATHB/HAT","FY","PLT","cluster31_ARF","cluster19_NAC","HMG","TGA","cluster20_NAC","ARR/GATA","cluster16_MYB","IDD/OBP","GT-2","TCX/SOL","TRP","WRKY","RVE","GT-1/AGL","FLC/SOC1/SVP","Dof","cluster39","cluster12_MYB","PEND","PHL/KAN/HHO","KUA/SRM","GT-4","REF/RAV","bZIP/RAV"], "range": [119, 1028], "paddingInner": 0, "paddingOuter": 0},
                       "axis": {"orient": "bottom", "labelAngle": 90, "labelFontSize": 14, "labelPadding": 3, "ticks": false, "domain": false, "title": null, "labelLimit": 300}},
                 "y": {"field": "r", "type": "ordinal", "scale": {"domain": [1,2,3,4,5,6,7,8], "paddingInner": 0, "paddingOuter": 0}, "axis": null},
                 "color": {"field": "z", "type": "quantitative",
                           "scale": {"domain": [-2.5, 0, 2.5], "range": ["#2f8fff", "#ffffff", "#d8001c"], "interpolate": "rgb", "clamp": true},
                           "legend": {"orient": "none", "legendX": 0, "legendY": 222, "direction": "horizontal", "gradientLength": 76, "gradientThickness": 13, "values": [-2.5, 0, 2.5], "labelExpr": "datum.value == 0 ? '0' : format(datum.value, '.1f')", "labelOffset": -18, "labelFontSize": 12, "labelOverlap": false, "title": ["Z-score", "(Obeserved/expected)"], "titleOrient": "bottom", "titleFontSize": 12, "titleFontWeight": "normal", "titleAnchor": "middle", "titleAlign": "center", "titlePadding": 3, "titleLineHeight": 15, "titleLimit": 300, "gradientStrokeWidth": 0,
                                      "encode": {"labels": {"update": {"baseline": {"value": "alphabetic"}, "align": {"value": "center"}}}}}}
               }},
              {"transform": [{"filter": "datum.s == 1"}],
               "mark": {"type": "text", "text": "*", "fontSize": 17, "baseline": "alphabetic", "dy": 12, "color": "#111"},
               "encoding": {"x": {"field": "c", "type": "nominal", "sort": null}, "y": {"field": "r", "type": "ordinal"}}}
            ]
          },
          {
            "data": {"name": "rowlabels"},
            "mark": {"type": "point", "opacity": 0},
            "encoding": {"y": {"field": "label", "type": "nominal", "sort": null,
                               "axis": {"orient": "left", "offset": -112, "domain": false, "ticks": false, "labelPadding": 4, "labelFontSize": 15, "title": null}}}
          }
        ]
      }
    ]
  },
  {
    "spacing": 0,
    "resolve": {"scale": {"color": "independent", "fill": "independent", "stroke": "independent"}},
    "hconcat": [
      {
        "width": 398, "height": 265,
        "layer": [
          {"data": {"name": "regions"}, "transform": [{"filter": "datum.cat == 'Balanced'"}],
           "mark": {"type": "line", "filled": true, "interpolate": "linear-closed"},
           "encoding": {
             "x": {"field": "x", "type": "quantitative", "scale": {"domain": [-17.65, 165.7], "nice": false, "zero": false}, "axis": null},
             "y": {"field": "y", "type": "quantitative", "scale": {"domain": [-27.6, 94.5], "nice": false, "zero": false}, "axis": null},
             "order": {"field": "o", "type": "quantitative"},
             "color": {"field": "cat", "type": "nominal",
                       "scale": {"domain": ["Balanced","A suppressed","B suppressed","D suppressed","A dominant","B dominant","D dominant"], "range": ["#a3a3a3","#a2cf9f","#3fbfff","#f9c000","#1e6400","#1414cc","#f36141"]},
                       "legend": {"orient": "none", "legendX": 288, "legendY": 21, "padding": 0, "title": "Category", "titleFontSize": 15, "titleFontWeight": "normal", "titlePadding": 10, "labelFontSize": 14, "symbolType": "circle", "symbolSize": 64, "symbolOpacity": 0.55, "symbolStrokeWidth": 0, "rowPadding": 10, "labelOffset": 6, "symbolOffset": 5, "labelLimit": 200}}}},
          {"data": {"name": "regions"}, "transform": [{"filter": "datum.cat != 'Balanced'"}],
           "mark": {"type": "line", "filled": true, "interpolate": "linear-closed"},
           "encoding": {
             "x": {"field": "x", "type": "quantitative"},
             "y": {"field": "y", "type": "quantitative"},
             "order": {"field": "o", "type": "quantitative"},
             "color": {"field": "cat", "type": "nominal"}}},
          {"data": {"name": "edges"}, "mark": {"type": "rule", "strokeWidth": 1.6},
           "encoding": {"x": {"field": "x", "type": "quantitative"}, "y": {"field": "y", "type": "quantitative"}, "x2": {"field": "x2"}, "y2": {"field": "y2"},
                        "stroke": {"field": "ax", "type": "nominal", "scale": {"domain": ["A","B","D"], "range": ["#1a1a9a","#8b1a1a","#2f8a2f"]}, "legend": null}}},
          {"data": {"name": "arrows"}, "mark": {"type": "rule", "strokeWidth": 1},
           "encoding": {"x": {"field": "x", "type": "quantitative"}, "y": {"field": "y", "type": "quantitative"}, "x2": {"field": "x2"}, "y2": {"field": "y2"},
                        "stroke": {"field": "ax", "type": "nominal", "legend": null}}},
          {"data": {"name": "arrows"}, "mark": {"type": "point", "shape": "M-1,-0.6L0,0L-1,0.6", "filled": false, "size": 50, "strokeWidth": 1, "opacity": 1},
           "encoding": {"x": {"field": "x2", "type": "quantitative"}, "y": {"field": "y2", "type": "quantitative"},
                        "stroke": {"field": "ax", "type": "nominal", "legend": null},
                        "angle": {"field": "dir", "type": "quantitative", "scale": null}}},
          {"data": {"name": "ticks"}, "transform": [{"filter": "datum.ax != 'B'"}],
           "mark": {"type": "text", "fontSize": 13, "angle": 300, "align": "center", "baseline": "middle"},
           "encoding": {"x": {"field": "x", "type": "quantitative"}, "y": {"field": "y", "type": "quantitative"}, "text": {"field": "t"},
                        "fill": {"field": "ax", "type": "nominal", "scale": {"domain": ["A","B","D"], "range": ["#2323a0","#a01f1f","#2f8f2f"]}, "legend": null}}},
          {"data": {"name": "ticks"}, "transform": [{"filter": "datum.ax == 'B'"}],
           "mark": {"type": "text", "fontSize": 13, "align": "center", "baseline": "middle"},
           "encoding": {"x": {"field": "x", "type": "quantitative"}, "y": {"field": "y", "type": "quantitative"}, "text": {"field": "t"},
                        "fill": {"field": "ax", "type": "nominal", "legend": null}}},
          {"data": {"name": "vertices"},
           "mark": {"type": "text", "fontSize": 16, "align": "center", "baseline": "middle"},
           "encoding": {"x": {"field": "x", "type": "quantitative"}, "y": {"field": "y", "type": "quantitative"}, "text": {"field": "t"},
                        "fill": {"field": "ax", "type": "nominal", "legend": null}}},
          {"data": {"name": "axisnames"}, "transform": [{"filter": "datum.ax == 'A'"}],
           "mark": {"type": "text", "fontSize": 14, "angle": 300, "align": "center", "baseline": "middle"},
           "encoding": {"x": {"field": "x", "type": "quantitative"}, "y": {"field": "y", "type": "quantitative"}, "text": {"field": "t"},
                        "fill": {"field": "ax", "type": "nominal", "legend": null}}},
          {"data": {"name": "axisnames"}, "transform": [{"filter": "datum.ax == 'B'"}],
           "mark": {"type": "text", "fontSize": 14, "angle": 60, "align": "center", "baseline": "middle"},
           "encoding": {"x": {"field": "x", "type": "quantitative"}, "y": {"field": "y", "type": "quantitative"}, "text": {"field": "t"},
                        "fill": {"field": "ax", "type": "nominal", "legend": null}}},
          {"data": {"name": "axisnames"}, "transform": [{"filter": "datum.ax == 'D'"}],
           "mark": {"type": "text", "fontSize": 14, "align": "center", "baseline": "middle"},
           "encoding": {"x": {"field": "x", "type": "quantitative"}, "y": {"field": "y", "type": "quantitative"}, "text": {"field": "t"},
                        "fill": {"field": "ax", "type": "nominal", "legend": null}}},
          {"data": {"values": [{"t": "B"}]},
           "mark": {"type": "text", "fontSize": 25, "fontWeight": "bold", "align": "left", "baseline": "alphabetic", "color": "#000"},
           "encoding": {"x": {"datum": -17.65}, "y": {"datum": 94.9}, "text": {"field": "t"}}},
          {"data": {"values": [{"t": "E"}]},
           "mark": {"type": "text", "fontSize": 25, "fontWeight": "bold", "align": "left", "baseline": "alphabetic", "color": "#000"},
           "encoding": {"x": {"datum": -17.65}, "y": {"datum": -43.3}, "text": {"field": "t"}}}
        ]
      },
      {
        "width": 301, "height": 265,
        "layer": [
          {"data": {"name": "flowsC"}, "mark": {"type": "rect", "opacity": 0.7},
           "encoding": {
             "x": {"field": "s", "type": "quantitative", "scale": {"domain": [-0.168, 4.427], "nice": false, "zero": false},
                   "axis": {"values": [0,1,2,3,4], "labelExpr": "['Leaf','DAP5','DAP9','DAP15','DAP20'][datum.value]", "ticks": false, "domain": false, "grid": false, "title": null, "labelFontSize": 14, "labelPadding": 3, "labelFlush": false}},
             "x2": {"field": "s2"},
             "y": {"field": "lo", "type": "quantitative", "scale": {"domain": [0, 100], "nice": false, "zero": false}, "axis": null},
             "y2": {"field": "hi"},
             "color": {"field": "k", "type": "nominal", "scale": {"domain": ["C1","C2","C3","C4","C5","C6","C7","mixed"], "range": ["#3f2a3d","#3e7a7c","#b4b89f","#f2d9b2","#e6895a","#e06b45","#cf4a36","#c4c4c4"]}, "legend": null}}},
          {"data": {"name": "linesC"}, "mark": {"type": "line", "interpolate": "monotone", "opacity": 0.45, "strokeCap": "butt"},
           "encoding": {"x": {"field": "s", "type": "quantitative"}, "y": {"field": "v", "type": "quantitative"},
                        "color": {"field": "k", "type": "nominal", "legend": null},
                        "strokeWidth": {"field": "n", "type": "quantitative", "scale": {"domain": [0, 10], "range": [0, 26.5]}, "legend": null}}},
          {"data": {"name": "barsC"}, "mark": {"type": "bar", "width": 21, "stroke": "#151515", "strokeWidth": 1},
           "encoding": {"x": {"field": "s", "type": "quantitative"}, "y": {"field": "pct", "type": "quantitative", "stack": "zero"},
                        "color": {"field": "k", "type": "nominal", "legend": null}, "order": {"field": "o", "type": "quantitative"}}},
          {"data": {"values": [{"t": "C"}]},
           "mark": {"type": "text", "fontSize": 25, "fontWeight": "bold", "align": "left", "baseline": "alphabetic", "color": "#000"},
           "encoding": {"x": {"datum": -0.473}, "y": {"datum": 98.9}, "text": {"field": "t"}}},
          {"data": {"values": [{"t": "RNA-seq (gene expression)"}]},
           "mark": {"type": "text", "fontSize": 14, "align": "center", "baseline": "alphabetic", "color": "#000"},
           "encoding": {"x": {"datum": 2.15}, "y": {"datum": 101.9}, "text": {"field": "t"}}}
        ]
      },
      {
        "width": 284, "height": 265,
        "layer": [
          {"data": {"name": "flowsD"}, "mark": {"type": "rect", "opacity": 0.55},
           "encoding": {
             "x": {"field": "s", "type": "quantitative", "scale": {"domain": [-0.168, 4.168], "nice": false, "zero": false},
                   "axis": {"values": [0,1,2,3,4], "labelExpr": "['Leaf','DAP5','DAP9','DAP15','DAP20'][datum.value]", "ticks": false, "domain": false, "grid": false, "title": null, "labelFontSize": 14, "labelPadding": 3, "labelFlush": false}},
             "x2": {"field": "s2"},
             "y": {"field": "lo", "type": "quantitative", "scale": {"domain": [0, 100], "nice": false, "zero": false}, "axis": null},
             "y2": {"field": "hi"},
             "color": {"field": "k", "type": "nominal", "scale": {"domain": ["D1","D2","D3","D4","D5","D6","D7","mixed"], "range": ["#46a2a4","#e97d2b","#a5a5a5","#f6c400","#1d4e5c","#3c7bbd","#1f3466","#bababa"]}, "legend": null}}},
          {"data": {"name": "linesD"}, "mark": {"type": "line", "interpolate": "monotone", "opacity": 0.45, "strokeCap": "butt"},
           "encoding": {"x": {"field": "s", "type": "quantitative"}, "y": {"field": "v", "type": "quantitative"},
                        "color": {"field": "k", "type": "nominal", "legend": null},
                        "strokeWidth": {"field": "n", "type": "quantitative", "scale": {"domain": [0, 10], "range": [0, 26.5]}, "legend": null}}},
          {"data": {"name": "barsD"}, "mark": {"type": "bar", "width": 21, "stroke": "#151515", "strokeWidth": 1},
           "encoding": {"x": {"field": "s", "type": "quantitative"}, "y": {"field": "pct", "type": "quantitative", "stack": "zero"},
                        "color": {"field": "k", "type": "nominal", "legend": null}, "order": {"field": "o", "type": "quantitative"}}},
          {"data": {"values": [{"t": "D"}]},
           "mark": {"type": "text", "fontSize": 25, "fontWeight": "bold", "align": "left", "baseline": "alphabetic", "color": "#000"},
           "encoding": {"x": {"datum": -0.366}, "y": {"datum": 98.9}, "text": {"field": "t"}}},
          {"data": {"values": [{"t": "ATAC-seq (TSS region)"}]},
           "mark": {"type": "text", "fontSize": 14, "align": "center", "baseline": "alphabetic", "color": "#000"},
           "encoding": {"x": {"datum": 1.97}, "y": {"datum": 101.9}, "text": {"field": "t"}}}
        ]
      }
    ]
  }
]
}
